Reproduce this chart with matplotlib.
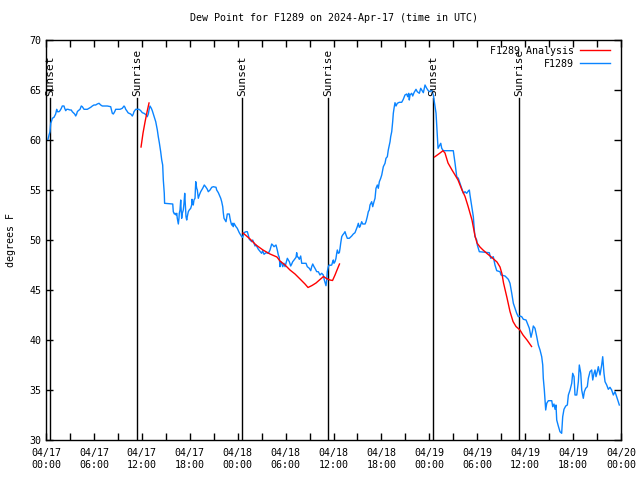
import datetime as dt

import matplotlib
matplotlib.use("Agg")
import matplotlib.pyplot as plt
import matplotlib.dates as mdates

# hours since 2024-04-17 00:00 UTC, dew point in degrees F
obs_hours = [
    0.25, 0.38, 0.50, 0.59, 0.71, 0.79, 1.00, 1.21, 1.34, 1.42, 1.63, 1.75, 1.92, 2.04, 2.25,
    2.34, 2.47, 2.59, 2.75, 3.01, 3.17, 3.29, 3.42, 3.59, 3.72, 3.84, 3.92, 4.04, 4.26, 4.42,
    4.55, 4.67, 4.76, 5.17, 5.38, 5.60, 5.80, 6.01, 6.22, 6.42, 6.64, 6.85, 7.05, 7.68, 8.10,
    8.18, 8.30, 8.43, 8.60, 8.73, 9.27, 9.55, 9.77, 9.89, 9.98, 10.11, 10.27, 10.39, 10.61, 10.81,
    10.93, 11.02, 11.23, 11.65, 11.86, 12.06, 12.27, 12.40, 12.56, 12.68, 12.81, 12.90, 13.02, 13.19, 13.31,
    13.44, 13.52, 13.74, 13.94, 14.06, 14.19, 14.36, 14.49, 14.61, 14.69, 14.81, 14.85, 15.87, 15.94, 16.07,
    16.15, 16.28, 16.37, 16.44, 16.57, 16.65, 16.69, 16.78, 16.87, 16.90, 16.99, 17.07, 17.19, 17.28, 17.37,
    17.44, 17.53, 17.62, 17.69, 17.82, 17.94, 18.12, 18.24, 18.28, 18.37, 18.44, 18.53, 18.66, 18.75, 18.87,
    18.95, 19.07, 19.20, 19.37, 19.62, 19.82, 20.04, 20.20, 20.32, 20.54, 20.75, 20.95, 21.29, 21.37, 21.58,
    21.70, 21.88, 22.00, 22.13, 22.20, 22.29, 22.41, 22.54, 22.63, 22.70, 22.95, 23.04, 23.13, 23.25, 23.38,
    23.45, 23.54, 23.67, 23.79, 23.95, 24.08, 24.20, 24.38, 24.51, 24.63, 24.79, 25.04, 25.21, 25.33, 25.46,
    25.63, 25.76, 25.88, 26.05, 26.17, 26.30, 26.46, 26.59, 27.00, 27.13, 27.30, 27.55, 27.84, 28.05, 28.26,
    28.39, 28.55, 28.80, 28.96, 29.09, 29.21, 29.30, 29.39, 29.51, 29.64, 29.80, 29.93, 30.05, 30.22, 30.34,
    30.47, 30.64, 30.77, 30.89, 31.06, 31.31, 31.39, 31.47, 31.59, 31.72, 31.89, 32.02, 32.56, 32.72, 32.97,
    33.15, 33.27, 33.40, 33.56, 33.68, 33.90, 34.10, 34.31, 34.52, 34.72, 34.85, 34.97, 35.06, 35.15, 35.22,
    35.35, 35.48, 35.65, 35.78, 35.90, 35.98, 36.06, 36.19, 36.31, 36.40, 36.48, 36.60, 36.73, 36.82, 36.90,
    37.03, 37.15, 37.32, 37.44, 37.57, 37.73, 37.98, 38.28, 38.48, 38.69, 38.91, 38.98, 39.11, 39.23, 39.32,
    39.53, 39.66, 39.95, 40.07, 40.23, 40.36, 40.48, 40.57, 40.78, 40.91, 41.07, 41.20, 41.32, 41.49, 41.61,
    41.74, 41.91, 42.04, 42.24, 42.45, 42.57, 42.74, 42.86, 43.08, 43.16, 43.29, 43.41, 43.49, 43.58, 43.70,
    43.83, 43.99, 44.24, 44.54, 44.74, 44.95, 45.17, 45.29, 45.42, 45.49, 45.58, 45.79, 45.92, 46.08, 46.33,
    46.49, 46.75, 46.92, 47.05, 47.25, 47.46, 47.67, 47.87, 48.09, 48.30, 48.50, 48.62, 48.84, 49.00, 49.09,
    49.25, 49.43, 49.55, 49.75, 51.00, 51.22, 51.43, 51.63, 51.84, 52.05, 52.26, 52.47, 52.68, 52.88, 53.01,
    53.09, 53.31, 53.51, 53.63, 53.72, 53.93, 54.01, 54.26, 55.51, 55.69, 56.01, 56.22, 56.44, 56.85, 56.98,
    57.48, 57.89, 58.10, 58.32, 58.52, 58.73, 58.94, 59.14, 59.35, 59.57, 59.77, 60.11, 60.27, 60.52, 60.73,
    60.90, 61.02, 61.23, 61.45, 61.65, 61.86, 62.07, 62.20, 62.27, 62.40, 62.57, 62.70, 62.90, 63.33, 63.45,
    63.61, 63.74, 63.86, 63.95, 64.15, 64.36, 64.57, 64.70, 64.86, 65.08, 65.28, 65.41, 65.62, 65.83, 65.95,
    66.12, 66.24, 66.46, 66.66, 66.78, 66.96, 67.08, 67.28, 67.41, 67.58, 67.78, 67.91, 68.12, 68.33, 68.46,
    68.62, 68.75, 68.87, 69.03, 69.16, 69.37, 69.58, 69.71, 69.87, 70.00, 70.21, 70.41, 70.62, 70.83, 71.04,
    71.25, 71.46, 71.66, 71.79,
]
obs_dewpt = [
    60.07, 60.5, 60.83, 61.67, 61.93, 62.17, 62.27, 62.6, 63.07, 62.83, 62.83, 62.93, 63.17, 63.4, 63.4,
    63.17, 62.93, 63.07, 63.07, 63.0, 63.0, 62.83, 62.73, 62.6, 62.4, 62.6, 62.83, 62.93, 63.07, 63.4,
    63.33, 63.17, 63.07, 63.07, 63.17, 63.27, 63.4, 63.5, 63.5, 63.6, 63.67, 63.5, 63.4, 63.4, 63.33,
    63.07, 62.67, 62.6, 62.83, 63.07, 63.07, 63.17, 63.4, 63.27, 63.07, 62.93, 62.73, 62.67, 62.6, 62.4,
    62.6, 62.83, 63.07, 63.07, 62.93, 62.73, 62.67, 62.6, 62.5, 62.33, 62.6, 63.0, 63.4, 63.17, 62.93,
    62.6, 62.4, 61.83, 61.0, 60.33, 59.73, 58.83, 58.0, 57.5, 56.0, 54.67, 53.67, 53.6, 52.83, 52.6,
    52.67, 52.5, 52.67, 52.17, 51.6, 52.17, 52.67, 53.0, 54.0, 53.33, 52.17, 52.67, 53.0, 53.67, 54.67,
    53.67, 52.33, 52.0, 52.33, 52.83, 53.0, 53.17, 53.5, 54.07, 53.67, 53.5, 54.0, 54.17, 55.83, 55.17,
    55.0, 54.17, 54.5, 54.83, 55.17, 55.5, 55.27, 55.07, 54.83, 55.0, 55.27, 55.33, 55.27, 55.0, 54.73,
    54.5, 54.17, 53.83, 53.33, 52.73, 52.17, 52.0, 51.83, 52.27, 52.6, 52.6, 52.17, 51.83, 51.5, 51.67,
    51.33, 51.67, 51.5, 51.33, 51.17, 50.93, 50.73, 50.5, 50.33, 50.27, 50.73, 50.83, 50.83, 50.5, 50.07,
    49.93, 49.83, 50.0, 49.67, 49.4, 49.5, 49.27, 49.07, 48.67, 48.93, 48.57, 48.73, 48.67, 49.0, 49.6,
    49.5, 49.33, 49.5, 49.0, 48.5, 48.27, 47.33, 47.83, 47.67, 47.33, 47.67, 47.33, 47.67, 48.17, 48.0,
    47.83, 47.4, 47.6, 47.83, 48.0, 48.27, 48.73, 48.33, 48.27, 48.07, 48.4, 47.67, 47.67, 47.33, 47.17,
    46.93, 47.33, 47.6, 47.33, 47.17, 46.83, 46.83, 46.5, 46.67, 46.5, 46.0, 45.67, 45.43, 46.0, 46.83,
    47.33, 47.5, 47.47, 47.5, 47.83, 48.0, 47.67, 47.83, 48.17, 48.67, 49.0, 48.67, 48.73, 49.17, 49.67,
    50.33, 50.5, 50.67, 50.83, 50.5, 50.17, 50.17, 50.4, 50.6, 50.73, 51.17, 51.33, 51.67, 51.27, 51.33,
    51.83, 51.6, 51.6, 51.83, 52.33, 52.83, 53.0, 53.5, 53.83, 53.33, 53.83, 54.17, 55.17, 55.5, 55.17,
    55.83, 56.17, 56.5, 57.33, 57.67, 58.17, 58.33, 59.0, 59.83, 60.33, 60.83, 61.83, 62.67, 63.17, 63.73,
    63.4, 63.67, 63.77, 63.77, 64.07, 64.5, 64.6, 64.33, 64.67, 64.0, 64.5, 64.67, 64.4, 64.73, 65.07,
    64.83, 64.67, 65.17, 65.0, 64.73, 65.5, 65.17, 64.93, 64.83, 65.0, 64.5, 63.83, 62.67, 60.5, 59.17,
    59.4, 59.67, 59.17, 58.93, 58.93, 57.67, 56.33, 56.17, 55.67, 55.17, 54.67, 54.83, 54.67, 54.9, 55.0,
    54.5, 53.33, 52.33, 51.0, 50.33, 50.0, 49.5, 48.83, 48.73, 48.17, 48.33, 47.5, 46.93, 46.83, 46.5,
    46.4, 46.07, 45.67, 44.67, 43.67, 43.17, 42.67, 42.33, 42.4, 42.33, 42.07, 42.0, 41.67, 41.17, 40.27,
    40.83, 41.4, 41.17, 40.33, 39.5, 39.0, 38.33, 37.5, 36.17, 35.0, 33.0, 33.67, 33.93, 33.93, 33.33,
    33.6, 33.07, 33.5, 32.0, 31.4, 30.83, 30.67, 32.33, 33.07, 33.4, 33.5, 34.5, 35.0, 35.67, 36.67,
    36.33, 34.5, 34.5, 35.83, 37.5, 36.67, 35.0, 34.17, 34.83, 35.17, 35.33, 36.17, 36.83, 37.0, 36.0,
    36.67, 37.0, 36.33, 36.83, 37.33, 36.5, 37.5, 38.33, 36.67, 35.83, 35.5, 35.07, 35.27, 35.0, 34.5,
    34.83, 34.33, 33.83, 33.5,
]

# analysis segments (one per daylight / night window)
ana_hours = [
    [11.90, 12.15, 12.40, 12.65, 12.90],
    [24.67, 25.55, 26.30, 27.17, 28.05, 28.92, 29.30, 29.93, 30.55, 31.18, 31.81, 32.43,
     32.81, 33.31, 33.81, 34.31, 34.75, 35.12, 35.56, 35.88, 36.19, 36.44, 36.75],
    [48.65, 49.34, 49.71, 49.96, 50.34, 50.84, 51.22, 51.59, 52.09, 52.47, 52.84, 53.34,
     53.72, 53.97, 54.34, 54.72, 55.22, 55.60, 55.97, 56.47, 56.85, 57.10, 57.29, 57.73,
     58.10, 58.48, 58.85, 59.35, 59.73, 60.23, 60.80],
]
ana_dewpt = [
    [59.3, 60.7, 61.8, 62.8, 63.7],
    [50.7, 50.1, 49.5, 49.0, 48.6, 48.3, 47.9, 47.5, 47.0, 46.6, 46.1, 45.6,
     45.25, 45.45, 45.7, 46.05, 46.35, 46.15, 46.0, 45.95, 46.5, 47.0, 47.6],
    [58.3, 58.7, 58.93, 58.7, 57.7, 57.0, 56.5, 56.0, 55.0, 54.35, 53.4, 52.0,
     50.4, 49.7, 49.3, 49.0, 48.65, 48.4, 48.15, 47.8, 47.3, 46.6, 45.7, 44.2,
     42.85, 41.85, 41.35, 41.0, 40.5, 40.0, 39.35],
]

sun_hours = [0.50, 11.40, 24.54, 35.31, 48.46, 59.23]
sun_labels = ["Sunset", "Sunrise", "Sunset", "Sunrise", "Sunset", "Sunrise"]

start = dt.datetime(2024, 4, 17)


def to_time(hours):
    return [start + dt.timedelta(hours=h) for h in hours]


plt.rcParams["font.family"] = "DejaVu Sans Mono"
plt.rcParams["font.size"] = 7.2

fig = plt.figure(figsize=(6.4, 4.8), dpi=100)
ax = fig.add_axes([46 / 640, 40 / 480, 575 / 640, 400 / 480])

blue = "#0a84ff"
red = "#ff0000"

for i, (hh, vv) in enumerate(zip(ana_hours, ana_dewpt)):
    ax.plot(to_time(hh), vv, color=red, lw=1.0, label="F1289 Analysis" if i == 0 else None, zorder=3)
ax.plot(to_time(obs_hours), obs_dewpt, color=blue, lw=1.0, label="F1289", zorder=2)

for h, lab in zip(sun_hours, sun_labels):
    t = start + dt.timedelta(hours=h)
    ax.plot([t, t], [30, 64.2], color="black", lw=1.0, zorder=1)
    ax.text(t, 64.4, lab, rotation=90, ha="center", va="bottom", fontsize=8)

ax.set_xlim(start, start + dt.timedelta(hours=72))
ax.set_ylim(30, 70)
ax.set_yticks(range(30, 71, 5))
ax.xaxis.set_major_locator(mdates.HourLocator(byhour=range(0, 24, 6)))
ax.xaxis.set_minor_locator(mdates.HourLocator(byhour=range(0, 24, 3)))
ax.xaxis.set_major_formatter(mdates.DateFormatter("%m/%d\n%H:%M"))
ax.tick_params(which="both", direction="in", top=True, right=True, length=5, width=1)
ax.tick_params(axis="x", pad=6)
for s in ax.spines.values():
    s.set_linewidth(1.0)

ax.set_ylabel("degrees F")
ax.yaxis.set_label_coords(-0.052, 0.5)
ax.set_title("Dew Point for F1289 on 2024-Apr-17 (time in UTC)", fontsize=7.2, pad=14)

leg = ax.legend(loc="upper right", bbox_to_anchor=(1 - 5 / 575, 1), frameon=False,
                markerfirst=False, handlelength=3.0, borderaxespad=0.2,
                labelspacing=0.3, handletextpad=0.6)

fig.savefig("out.png", dpi=100)
